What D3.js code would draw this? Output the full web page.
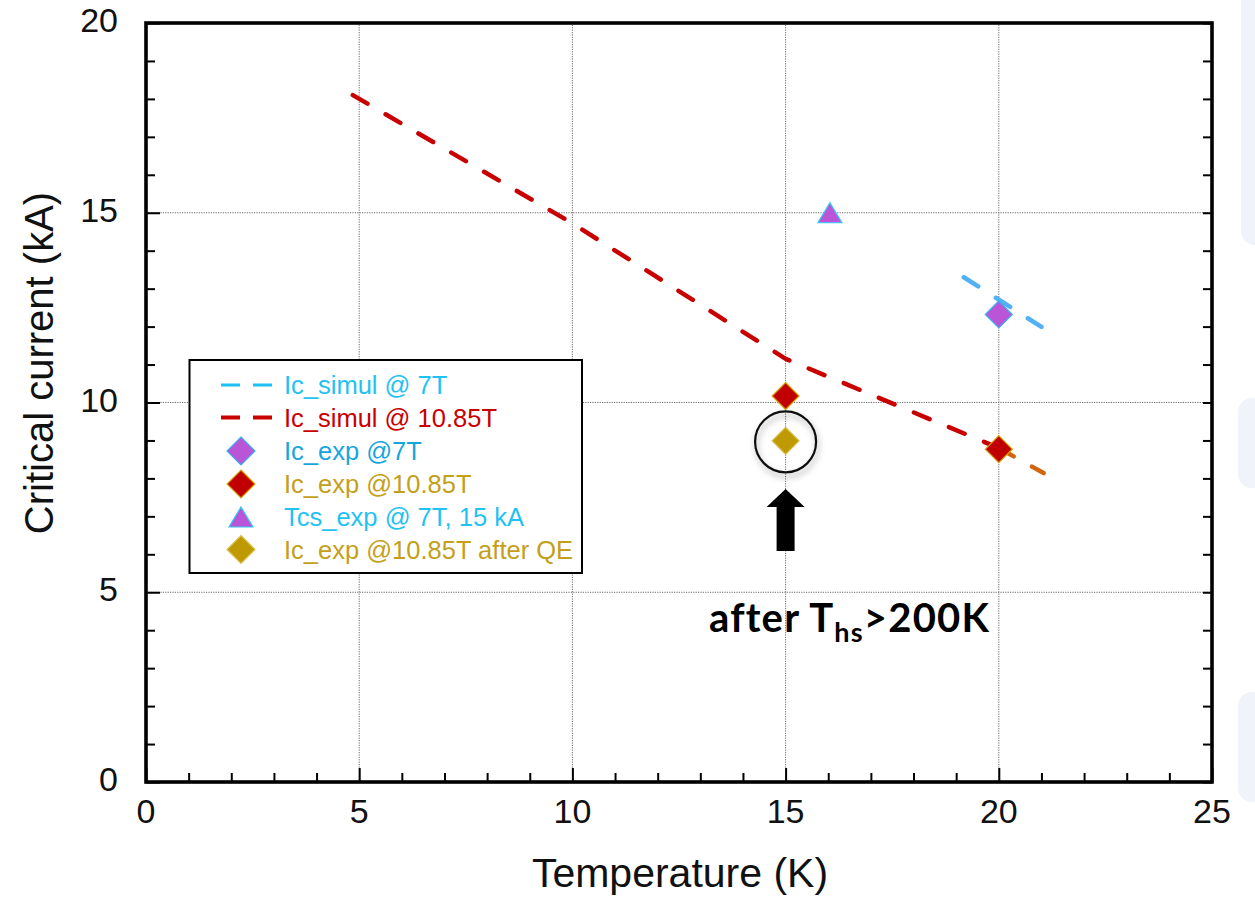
<!DOCTYPE html>
<html>
<head>
<meta charset="utf-8">
<script src="https://cdn.jsdelivr.net/npm/d3@7"></script>
<style>
  html, body { margin: 0; padding: 0; background: #fff; }
  svg { display: block; }
  text { font-family: "Liberation Sans", Arial, Helvetica, sans-serif; }
</style>
</head>
<body>
<svg id="chart" width="1255" height="899"></svg>
<script>
// ---- data ----
const xTicks = [0, 5, 10, 15, 20, 25];
const yTicks = [0, 5, 10, 15, 20];

// simulated critical current at 7 T
const simul7T_T  = [19.18, 21.0];
const simul7T_Ic = [13.3, 11.99];

// simulated critical current at 10.85 T
const simul1085_T  = [4.85, 10, 15, 20];
const simul1085_Ic = [18.1, 14.72, 11.15, 8.8];
// continuation beyond 20 K
const simul1085Tail_T  = [20, 21.05];
const simul1085Tail_Ic = [8.8, 8.14];

// measured points
const icExp7T_T  = [20];
const icExp7T_Ic = [12.32];
const icExp1085_T  = [15, 20];
const icExp1085_Ic = [10.17, 8.77];
const tcsExp_T  = [16.04];
const tcsExp_Ic = [15];
const afterQE_T  = [15];
const afterQE_Ic = [8.99];

const legendLabels = [
  "Ic_simul @ 7T",
  "Ic_simul @ 10.85T",
  "Ic_exp @7T",
  "Ic_exp @10.85T",
  "Tcs_exp @ 7T, 15 kA",
  "Ic_exp @10.85T after QE"
];

// ---- styles ----
const C = {
  red: "#c80000",
  redFill: "#c00000",
  orange: "#d2650f",
  blueLine: "#52b0f4",
  cyanText: "#1fc2f2",
  blueText: "#16a6de",
  gold: "#c4a01a",
  goldFill: "#bf9900",
  purple: "#bb55d8"
};

const svg = d3.select("#chart");

// faint slide decoration on the right edge
const deco = svg.append("g").attr("fill", "#f1f3fa");
[[1241, -20, 60, 265], [1238, 398, 60, 90], [1238, 692, 60, 110]].forEach(r => {
  deco.append("rect").attr("x", r[0]).attr("y", r[1]).attr("width", r[2]).attr("height", r[3])
    .attr("rx", 14);
});

const x = d3.scaleLinear().domain([0, 25]).range([146, 1212]);
const y = d3.scaleLinear().domain([0, 20]).range([782, 23]);

const defs = svg.append("defs");
const f = defs.append("filter").attr("id", "shadow")
  .attr("x", "-50%").attr("y", "-50%").attr("width", "200%").attr("height", "200%");
f.append("feDropShadow").attr("dx", 1.5).attr("dy", 4).attr("stdDeviation", 3)
  .attr("flood-color", "#000").attr("flood-opacity", 0.35);

// ---- grid ----
const grid = svg.append("g").attr("stroke", "#6a6a6a").attr("stroke-width", 1)
  .attr("stroke-dasharray", "1.2 1.2");
[5, 10, 15, 20].forEach(t => {
  grid.append("line").attr("x1", x(t)).attr("x2", x(t)).attr("y1", y(0)).attr("y2", y(20));
});
[5, 10, 15].forEach(v => {
  grid.append("line").attr("x1", x(0)).attr("x2", x(25)).attr("y1", y(v)).attr("y2", y(v));
});

// ---- axes ----
const minorX = d3.range(0, 26, 1);
const minorY = d3.range(0, 21, 1);

const axB = svg.append("g").attr("transform", `translate(0,${y(0)})`)
  .call(d3.axisTop(x).tickValues(minorX).tickSize(9).tickFormat(""));
const axL = svg.append("g").attr("transform", `translate(${x(0)},0)`)
  .call(d3.axisRight(y).tickValues(minorY).tickSize(9).tickFormat(""));
const axR = svg.append("g").attr("transform", `translate(${x(25)},0)`)
  .call(d3.axisLeft(y).tickValues(minorY).tickSize(9).tickFormat(""));
[axB, axL, axR].forEach(g => {
  g.select(".domain").remove();
  g.selectAll(".tick line").attr("stroke", "#000").attr("stroke-width", 2);
});
// longer major ticks
axB.selectAll(".tick line").filter(d => d % 5 === 0).attr("y2", -14);
axL.selectAll(".tick line").filter(d => d % 5 === 0).attr("x2", 14);

// frame
svg.append("rect")
  .attr("x", x(0)).attr("y", y(20))
  .attr("width", x(25) - x(0)).attr("height", y(0) - y(20))
  .attr("fill", "none").attr("stroke", "#000").attr("stroke-width", 3.6);

// tick labels
svg.append("g").selectAll("text").data(xTicks).join("text")
  .attr("x", d => x(d)).attr("y", y(0) + 41)
  .attr("text-anchor", "middle").attr("font-size", 34).attr("fill", "#111")
  .text(d => d);
svg.append("g").selectAll("text").data(yTicks).join("text")
  .attr("x", 118).attr("y", d => y(d) + 9)
  .attr("text-anchor", "end").attr("font-size", 34).attr("fill", "#111")
  .text(d => d);

// axis titles
svg.append("text").attr("x", 680).attr("y", 887).attr("text-anchor", "middle")
  .attr("font-size", 41).attr("fill", "#111").text("Temperature (K)");
svg.append("text").attr("transform", "translate(53,363) rotate(-90)")
  .attr("text-anchor", "middle").attr("font-size", 40).attr("fill", "#111")
  .text("Critical current (kA)");

// ---- lines ----
const line = d3.line().x(d => x(d[0])).y(d => y(d[1]));
function drawDashed(T, V, color) {
  svg.append("path").datum(d3.zip(T, V)).attr("d", line)
    .attr("fill", "none").attr("stroke", color).attr("stroke-width", 4.5)
    .attr("stroke-linecap", "round").attr("stroke-dasharray", "17 21");
}
drawDashed(simul1085_T, simul1085_Ic, C.red);
drawDashed(simul1085Tail_T, simul1085Tail_Ic, C.orange);
drawDashed(simul7T_T, simul7T_Ic, C.blueLine);

// ---- markers ----
const diamond = h => `M0,${-h}L${h},0L0,${h}L${-h},0Z`;
const triangle = (w, h) => `M0,${-h / 2}L${w / 2},${h / 2}L${-w / 2},${h / 2}Z`;

function drawPoints(T, V, path, fill, stroke) {
  svg.append("g").selectAll("path").data(d3.zip(T, V)).join("path")
    .attr("transform", d => `translate(${x(d[0])},${y(d[1])})`)
    .attr("d", path).attr("fill", fill).attr("stroke", stroke).attr("stroke-width", 1.2);
}
drawPoints(icExp7T_T, icExp7T_Ic, diamond(13.5), C.purple, "#3aaef0");
drawPoints(icExp1085_T, icExp1085_Ic, diamond(13.5), C.redFill, "#d8a400");
drawPoints(tcsExp_T, tcsExp_Ic, triangle(24, 20), C.purple, "#30c8f8");
drawPoints(afterQE_T, afterQE_Ic, diamond(13.5), C.goldFill, "#dcc050");

// ---- annotation ----
const qe = [x(afterQE_T[0]), y(afterQE_Ic[0])];
svg.append("circle").attr("cx", qe[0]).attr("cy", qe[1] + 1).attr("r", 30.5)
  .attr("fill", "none").attr("stroke", "#111").attr("stroke-width", 2.2)
  .attr("filter", "url(#shadow)");

// block arrow pointing up at the marked point
const ax = qe[0];
svg.append("path")
  .attr("d", `M${ax},489 L${ax + 19},507 L${ax + 9},507 L${ax + 9},551 L${ax - 9},551 L${ax - 9},507 L${ax - 19},507 Z`)
  .attr("fill", "#000");

const ann = svg.append("text").attr("x", 709).attr("y", 632)
  .style("font-family", "Lato, 'Open Sans', sans-serif").style("font-weight", "bold")
  .style("letter-spacing", "1.2px")
  .attr("font-size", 40).attr("fill", "#000");
ann.append("tspan").text("after T");
ann.append("tspan").attr("font-size", 27).attr("dy", 10).text("hs");
ann.append("tspan").attr("dy", -10).text(">200K");

// ---- legend ----
const lg = svg.append("g");
lg.append("rect").attr("x", 189.5).attr("y", 360).attr("width", 392.5).attr("height", 213)
  .attr("fill", "#fff").attr("stroke", "#000").attr("stroke-width", 2);
const rowY = [385, 417.5, 451, 484, 517, 549.5];
const textColors = [C.cyanText, C.red, C.blueText, C.gold, C.cyanText, C.gold];
lg.selectAll("text").data(legendLabels).join("text")
  .attr("x", 284).attr("y", (d, i) => rowY[i] + 9)
  .attr("font-size", 25.5).attr("fill", (d, i) => textColors[i]).text(d => d);

lg.append("line").attr("x1", 221).attr("x2", 272).attr("y1", rowY[0]).attr("y2", rowY[0])
  .attr("stroke", "#1ec0f4").attr("stroke-width", 3.2).attr("stroke-dasharray", "19 13");
lg.append("line").attr("x1", 221).attr("x2", 272).attr("y1", rowY[1]).attr("y2", rowY[1])
  .attr("stroke", C.red).attr("stroke-width", 4).attr("stroke-dasharray", "19 13");
const lx = 241;
lg.append("path").attr("transform", `translate(${lx},${rowY[2]})`).attr("d", diamond(14))
  .attr("fill", C.purple).attr("stroke", "#3aaef0").attr("stroke-width", 1.2);
lg.append("path").attr("transform", `translate(${lx},${rowY[3]})`).attr("d", diamond(14))
  .attr("fill", C.redFill).attr("stroke", "#d8a400").attr("stroke-width", 1.2);
lg.append("path").attr("transform", `translate(${lx},${rowY[4]})`).attr("d", triangle(24, 20))
  .attr("fill", C.purple).attr("stroke", "#30c8f8").attr("stroke-width", 1.2);
lg.append("path").attr("transform", `translate(${lx},${rowY[5]})`).attr("d", diamond(14))
  .attr("fill", C.goldFill).attr("stroke", "#dcc050").attr("stroke-width", 1.2);
</script>
</body>
</html>
